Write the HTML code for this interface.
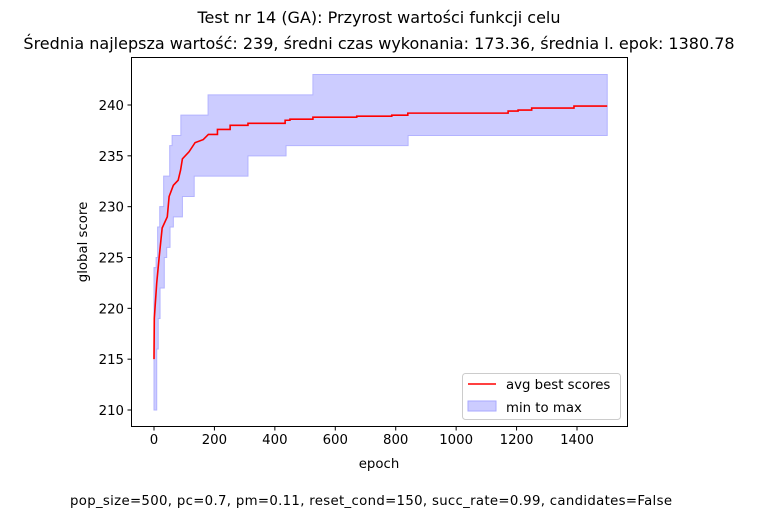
<!DOCTYPE html>
<html><head><meta charset="utf-8"><style>
body{margin:0;background:#fff;}
svg text{font-family:"DejaVu Sans","Liberation Sans",sans-serif;fill:#000;}
</style></head><body>
<svg id="chart" width="758" height="517" viewBox="0 0 758 517" xmlns="http://www.w3.org/2000/svg">
<text x="379" y="23" font-size="16" text-anchor="middle">Test nr 14 (GA): Przyrost wartości funkcji celu</text>
<text x="379" y="49" font-size="16" text-anchor="middle">Średnia najlepsza wartość: 239, średni czas wykonania: 173.36, średnia l. epok: 1380.78</text>
<g id="plot"></g>
<rect x="131.5" y="57.5" width="496" height="369" fill="none" stroke="#000" stroke-width="1"/>
<text x="379" y="468" font-size="13.3" text-anchor="middle">epoch</text>
<text transform="translate(87,242) rotate(-90)" font-size="13.3" text-anchor="middle">global score</text>
<g>
<rect x="462.5" y="373.5" width="158" height="46" rx="3" fill="#fff" fill-opacity="0.8" stroke="#ccc"/>
<line x1="468" y1="384" x2="496" y2="384" stroke="red" stroke-width="1.5"/>
<text x="506" y="389" font-size="13.3">avg best scores</text>
<rect x="468" y="401" width="28" height="10" fill="#ccccff" stroke="#aaaaff"/>
<text x="506" y="412" font-size="13.3">min to max</text>
</g>
<text x="371" y="505" font-size="13.3" text-anchor="middle" textLength="602" lengthAdjust="spacing">pop_size=500, pc=0.7, pm=0.11, reset_cond=150, succ_rate=0.99, candidates=False</text>
</svg>
<script>
const xTicks=[0,200,400,600,800,1000,1200,1400];
const yTicks=[210,215,220,225,230,235,240];
const upperEpochs=[0,7,12,19,32,52,60,89,179,526,1500];
const upperValues=[224,225,228,230,233,236,237,239,241,243,243];
const lowerEpochs=[0,9,14,20,34,42,53,64,94,133,311,437,841,1500];
const lowerValues=[210,216,219,222,225,226,228,229,231,233,235,236,237,237];
const avgEpochs=[0,1,9,17,27,44,50,64,80,88,94,116,136,163,180,210,252,311,434,450,526,671,787,840,1172,1205,1250,1390,1500];
const avgValues=[215,219,222.5,225,227.9,229,231,232.1,232.6,233.6,234.7,235.4,236.3,236.6,237.1,237.6,238,238.2,238.5,238.6,238.8,238.9,239,239.2,239.4,239.5,239.7,239.9,239.9];
const X=e=>154+e*(577-154)/1400;
const Y=v=>410-(v-210)*(410-105)/30;
const NS="http://www.w3.org/2000/svg";
const g=document.getElementById('plot');
function mk(t,a){const el=document.createElementNS(NS,t);for(const k in a)el.setAttribute(k,a[k]);return el;}
function stepPts(es,vs){let p=[];for(let i=0;i<es.length;i++){if(i>0)p.push([X(es[i]),Y(vs[i-1])]);p.push([X(es[i]),Y(vs[i])]);}return p;}
function avgPts(es,vs){let p=[];for(let i=0;i<es.length;i++){if(i>0&&es[i]>200)p.push([X(es[i]),Y(vs[i-1])]);p.push([X(es[i]),Y(vs[i])]);}return p;}
const up=stepPts(upperEpochs,upperValues), lo=stepPts(lowerEpochs,lowerValues);
const poly=up.concat(lo.slice().reverse()).map(p=>p.join(',')).join(' ');
const band=mk('polygon',{points:poly,fill:'#ccccff',stroke:'#b3b3ff','stroke-width':1});


g.appendChild(band);
const avg=mk('polyline',{points:avgPts(avgEpochs,avgValues).map(p=>p.join(',')).join(' '),fill:'none',stroke:'red','stroke-width':1.6});


g.appendChild(avg);
xTicks.forEach(t=>{
 const l=mk('line',{x1:X(t),x2:X(t),y1:427,y2:430.5,stroke:'#000'});
 
 
 g.appendChild(l);
 const tx=mk('text',{x:X(t),y:444,'font-size':13.3,'text-anchor':'middle'});tx.textContent=t;
 
 
 g.appendChild(tx);
});
yTicks.forEach(t=>{
 const l=mk('line',{x1:127.5,x2:131,y1:Y(t),y2:Y(t),stroke:'#000'});
 
 
 g.appendChild(l);
 const tx=mk('text',{x:124,y:Y(t)+5,'font-size':13.3,'text-anchor':'end'});tx.textContent=t;
 
 
 g.appendChild(tx);
});
</script>
</body></html>
